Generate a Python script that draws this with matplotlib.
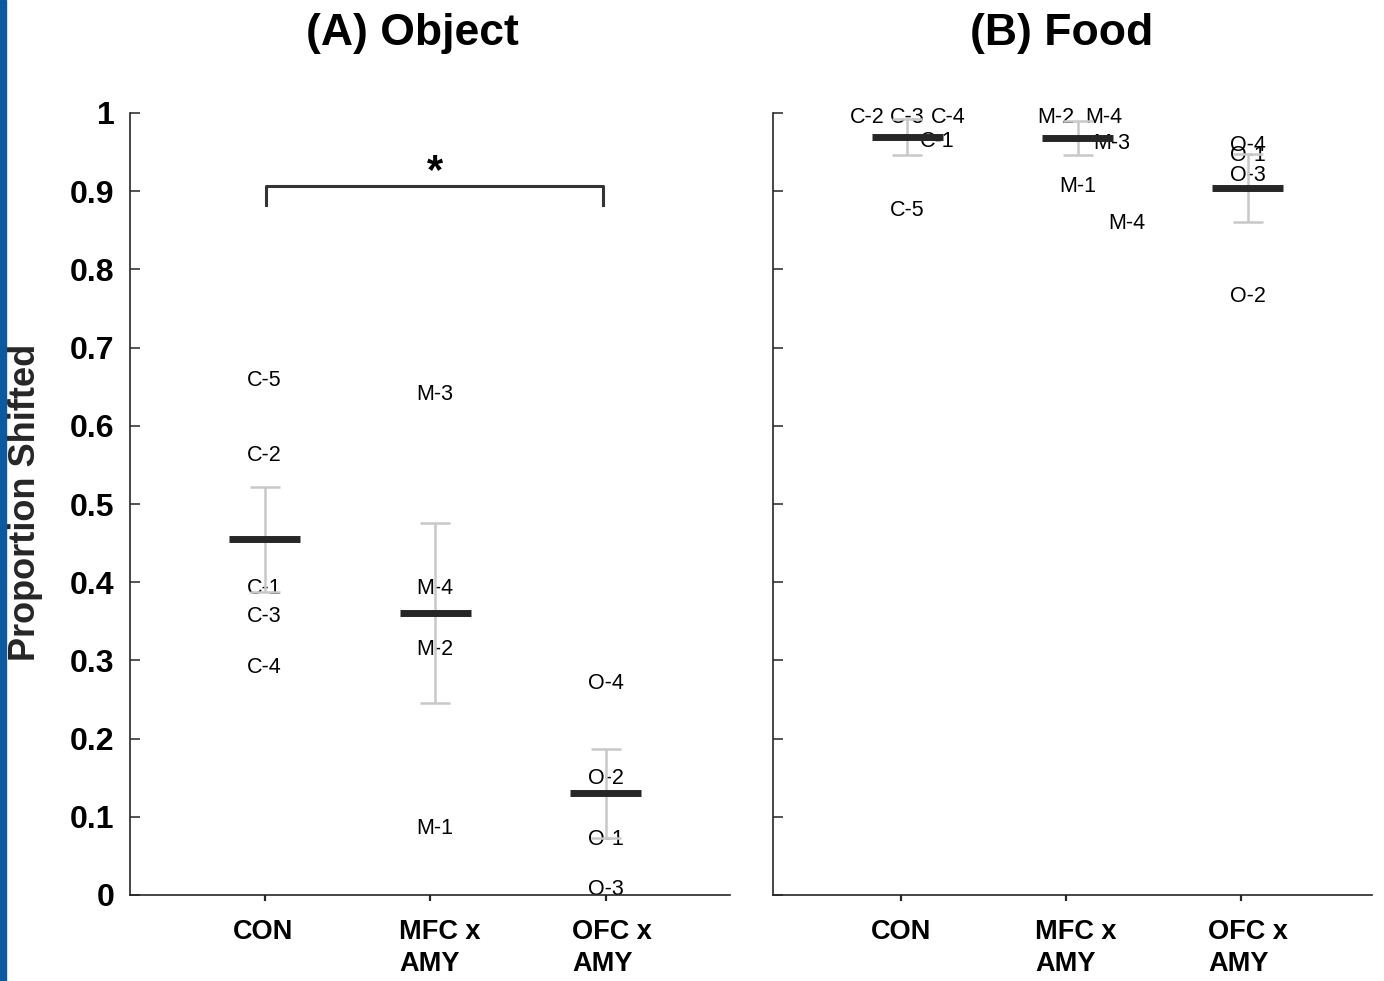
import numpy as np
import matplotlib
matplotlib.use("Agg")
import matplotlib.pyplot as plt
from matplotlib.patches import Rectangle

plt.rcParams["font.family"] = ["Liberation Sans", "DejaVu Sans"]

# group names on the x axis
groups = ["CON", "MFC x\nAMY", "OFC x\nAMY"]

# (A) Object: group means, SEM, and each subject's value
obj_means = [0.455, 0.361, 0.130]
obj_sem = [0.067, 0.115, 0.057]
obj_labels = [["C-5", "C-2", "C-1", "C-3", "C-4"],
              ["M-3", "M-4", "M-2", "M-1"],
              ["O-4", "O-2", "O-1", "O-3"]]
obj_values = [[0.661, 0.565, 0.395, 0.358, 0.293],
              [0.642, 0.395, 0.317, 0.087],
              [0.273, 0.151, 0.073, 0.009]]

# (B) Food
food_means = [0.969, 0.968, 0.904]
food_sem = [0.023, 0.022, 0.044]
food_labels = [["C-2", "C-3", "C-4", "C-1", "C-5"],
               ["M-2", "M-4", "M-3", "M-1", "M-4"],
               ["O-4", "O-1", "O-3", "O-2"]]
food_values = [[0.997, 0.997, 0.997, 0.966, 0.878],
               [0.997, 0.997, 0.963, 0.908, 0.861],
               [0.961, 0.948, 0.923, 0.768]]

# horizontal nudges so overlapping labels stay readable
obj_jitter = [[0, 0, 0, 0, 0], [0, 0, 0, 0], [0, 0, 0, 0]]
food_jitter = [[-0.236, 0, 0.24, 0.174, 0],
               [-0.129, 0.154, 0.203, 0, 0.287],
               [0, 0, 0, 0]]

yticks = np.round(np.arange(0, 1.01, 0.1), 1)
ytick_labels = ["0"] + ["%.1f" % v for v in yticks[1:-1]] + ["1"]

SPINE = "#262626"


def draw_panel(ax, means, sem, labels, values, jitter, ticks, label_pos):
    for i in range(len(means)):
        x = i + 1
        for lab, v, dx in zip(labels[i], values[i], jitter[i]):
            ax.text(x + dx, v - 0.0025, lab, ha="center", va="center",
                    fontsize=15.5, color="black", zorder=2)
        ax.errorbar(x, means[i], yerr=sem[i], color="#c8c8c8", lw=1.8,
                    capsize=10.5, capthick=1.8, zorder=3)
        ax.plot([x - 0.208, x + 0.208], [means[i], means[i]],
                color=SPINE, lw=5, solid_capstyle="butt", zorder=4)

    ax.set_xlim(0.21, 3.73)
    ax.set_ylim(0, 1)
    for s in ["top", "right"]:
        ax.spines[s].set_visible(False)
    for s in ["left", "bottom"]:
        ax.spines[s].set_color(SPINE)
        ax.spines[s].set_linewidth(1.2)
    # tick marks (major, unlabeled) and group names (minor, no mark)
    ax.set_xticks(ticks)
    ax.set_xticklabels([])
    ax.set_xticks(label_pos, minor=True)
    ax.set_xticklabels(groups, minor=True, fontweight="bold", fontsize=19.5,
                       multialignment="left", linespacing=1.3)
    ax.set_yticks(yticks)
    ax.tick_params(axis="y", direction="in", length=7, width=1.1,
                   colors=SPINE, labelcolor="black", pad=11)
    ax.tick_params(axis="x", which="major", direction="out", length=4,
                   width=1.6, colors=SPINE)
    ax.tick_params(axis="x", which="minor", length=0, labelcolor="black",
                   pad=17)


fig = plt.figure(figsize=(13.84, 9.81), dpi=100)
fig.patches.append(Rectangle((0, 0), 6 / 1384, 1, transform=fig.transFigure,
                             color="#0b5aa0", zorder=10))

ax1 = fig.add_axes([130 / 1384, 86 / 981, 600 / 1384, 782 / 981])
ax2 = fig.add_axes([773 / 1384, 86 / 981, 599 / 1384, 782 / 981])

draw_panel(ax1, obj_means, obj_sem, obj_labels, obj_values, obj_jitter,
           [1, 1.97, 3], [0.99, 2.03, 3.04])
ax1.set_yticklabels(ytick_labels, fontweight="bold", fontsize=23)

# significance bracket between CON and OFC x AMY
ax1.plot([1.01, 1.01, 2.985, 2.985], [0.882, 0.9066, 0.9066, 0.882],
         color="#333333", lw=2.2, clip_on=False)
ax1.text(2, 0.9245, "*", ha="center", va="center", fontsize=30,
         fontweight="bold")

draw_panel(ax2, food_means, food_sem, food_labels, food_values, food_jitter,
           [0.965, 1.93, 2.96], [0.96, 1.99, 3.0])
ax2.set_yticklabels([])

fig.text(412 / 1384, 1 - 33 / 981, "(A) Object", ha="center", va="center",
         fontsize=32, fontweight="bold")
fig.text(1062 / 1384, 1 - 33 / 981, "(B) Food", ha="center", va="center",
         fontsize=32, fontweight="bold")
fig.text(26 / 1384, 1 - 502 / 981, "Proportion Shifted", rotation=90,
         ha="center", va="center", fontsize=26, fontweight="bold",
         color="#262626")

fig.savefig("out.png", dpi=100)
